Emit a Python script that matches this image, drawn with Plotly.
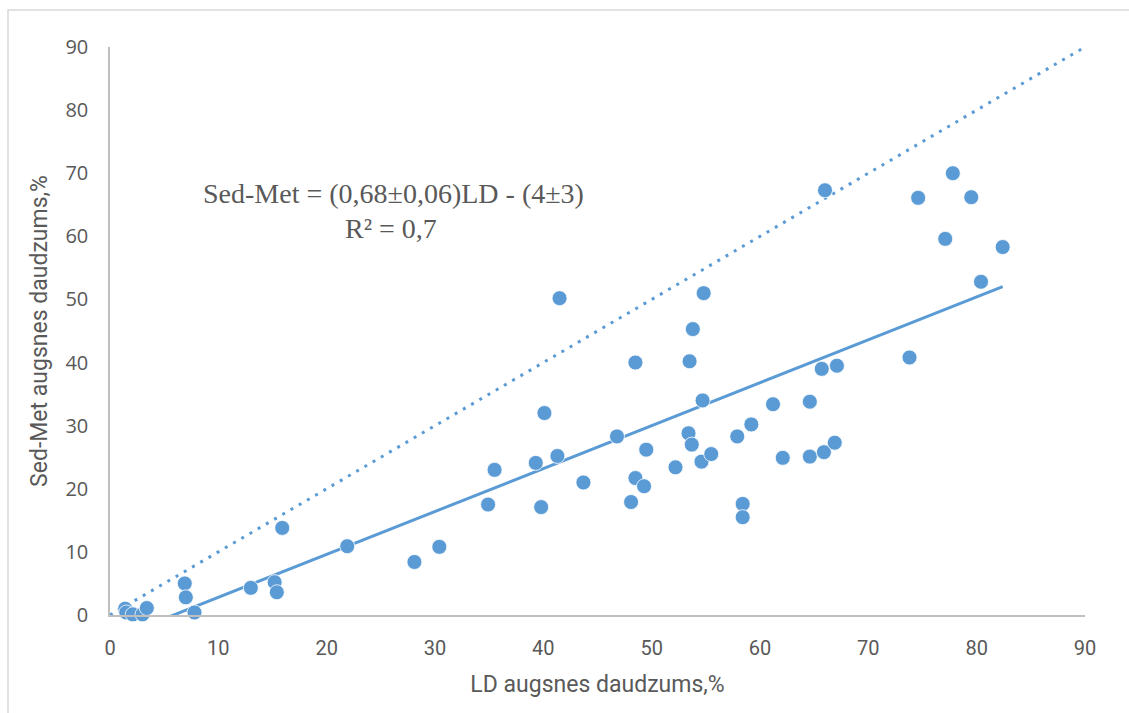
import plotly.graph_objects as go

ld = [1.4, 1.5, 2.1, 3.0, 3.4, 6.9, 7.0, 7.8, 13.0, 15.2, 15.4, 15.9, 21.9, 28.1, 30.4,
      34.9, 35.5, 39.3, 39.8, 40.1, 41.3, 41.5, 43.7, 46.8, 48.1, 48.5, 48.5, 49.3, 49.5,
      52.2, 53.4, 53.5, 53.7, 53.8, 54.6, 54.7, 54.8, 55.5, 57.9, 58.4, 58.4, 59.2, 61.2,
      62.1, 64.6, 64.6, 65.7, 65.9, 66.0, 66.9, 67.1, 73.8, 74.6, 77.1, 77.8, 79.5, 80.4, 82.4]
sedmet = [1.0, 0.4, 0.1, 0.1, 1.1, 5.0, 2.8, 0.4, 4.3, 5.2, 3.6, 13.8, 10.9, 8.4, 10.8,
          17.5, 23.0, 24.1, 17.1, 32.0, 25.2, 50.2, 21.0, 28.3, 17.9, 40.0, 21.7, 20.4, 26.2,
          23.4, 28.8, 40.2, 27.0, 45.3, 24.3, 34.0, 51.0, 25.5, 28.3, 17.6, 15.5, 30.2, 33.4,
          24.9, 25.1, 33.8, 39.0, 25.8, 67.3, 27.3, 39.5, 40.8, 66.1, 59.6, 70.0, 66.2, 52.8, 58.3]

slope = 0.68
intercept = -4
identity = [0, 90]

x_ticks = [0, 10, 20, 30, 40, 50, 60, 70, 80, 90]
y_ticks = [0, 10, 20, 30, 40, 50, 60, 70, 80, 90]

eq_line1 = "Sed-Met = (0,68±0,06)LD - (4±3)"
eq_line2 = "R² = 0,7"

blue = "#5B9BD5"
gray_text = "#595959"
sans = "Roboto, Liberation Sans, sans-serif"
serif = "Liberation Serif, Times New Roman, serif"

fig = go.Figure()

fig.add_trace(go.Scatter(
    x=identity, y=identity, mode="lines",
    line=dict(color=blue, width=3, dash="3px,6.5px"),
    hoverinfo="skip", showlegend=False))

tx = [min(ld), max(ld)]
ty = [slope * v + intercept for v in tx]
fig.add_trace(go.Scatter(
    x=tx, y=ty, mode="lines",
    line=dict(color=blue, width=3),
    hoverinfo="skip", showlegend=False))

fig.add_trace(go.Scatter(
    x=ld, y=sedmet, mode="markers",
    marker=dict(color=blue, size=15, line=dict(color="white", width=0.8)),
    showlegend=False, cliponaxis=False))

fig.add_annotation(x=26.2, y=66.8, xref="x", yref="y", text=eq_line1,
                   showarrow=False, font=dict(family=serif, size=28, color=gray_text))
fig.add_annotation(x=25.9, y=61.3, xref="x", yref="y", text=eq_line2,
                   showarrow=False, font=dict(family=serif, size=28, color=gray_text))

fig.add_shape(type="rect", xref="paper", yref="paper",
              x0=(8 - 110) / 975, x1=(1140 - 110) / 975,
              y0=(615 - 730) / 568, y1=(615 - 10) / 568,
              line=dict(color="#D9D9D9", width=1.5), fillcolor="rgba(0,0,0,0)", layer="below")

fig.update_layout(
    width=1129, height=713,
    margin=dict(l=110, r=44, t=47, b=98),
    paper_bgcolor="white", plot_bgcolor="white",
    xaxis=dict(range=[0, 90], tickvals=x_ticks, showgrid=False, zeroline=False,
               showline=True, linecolor="#BFBFBF", linewidth=1.5, ticks="",
               ticklabelstandoff=14,
               tickfont=dict(family=sans, size=20, color=gray_text),
               title=dict(text="LD augsnes daudzums,%", standoff=17,
                          font=dict(family=sans, size=23, color=gray_text))),
    yaxis=dict(range=[0, 90], tickvals=y_ticks, showgrid=False, zeroline=False,
               showline=True, linecolor="#BFBFBF", linewidth=1.5, ticks="",
               ticklabelstandoff=16,
               tickfont=dict(family="Open Sans, sans-serif", size=20, color=gray_text),
               title=dict(text="Sed-Met augsnes daudzums,%", standoff=11,
                          font=dict(family=sans, size=23, color=gray_text))),
)

fig.write_html("out.html")
